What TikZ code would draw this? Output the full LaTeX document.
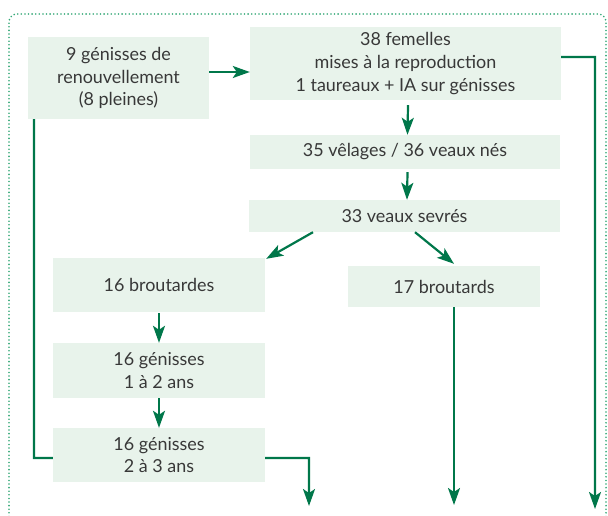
\documentclass[tikz,border=0pt]{standalone}
\usepackage{fontspec}
\setmainfont{Lato}
\usetikzlibrary{arrows.meta}

\definecolor{vert}{HTML}{00774A}
\definecolor{pointille}{HTML}{35A877}
\definecolor{fond}{HTML}{E8F3EB}
\definecolor{texte}{HTML}{383838}

\begin{document}
\begin{tikzpicture}[x=1bp,y=-1bp,
                boite/.style={fill=fond,text=texte,align=center,inner sep=0pt,
                    font=\fontsize{18}{23}\selectfont},
                fleche/.style={draw=vert,line width=2.2bp,
                    -{Stealth[length=17bp,width=12bp,inset=4bp]}},
                trait/.style={draw=vert,line width=2.2bp},
                cadre/.style={draw=pointille,line width=1.8bp,line cap=round,
                    dash pattern=on 0bp off 3.6bp,rounded corners=8bp}]
                \useasboundingbox (0,0) rectangle (608,516);
                
                % cadre pointille
                \draw[cadre] (9,520) -- (9,14) -- (606,14) -- (606,520);
                
                % boites
                \node[boite,minimum width=181bp,minimum height=82bp] (gen) at (118.5,78)
                    {9 génisses de\\renouvellement\\(8 pleines)};
                \node[boite,minimum width=311bp,minimum height=73bp] (fem) at (405.5,63.5)
                    {38 femelles\\mises à la reproduction\\1 taureaux + IA sur génisses};
                \node[boite,minimum width=310bp,minimum height=34bp] (vel) at (405,152)
                    {35 vêlages / 36 veaux nés};
                \node[boite,minimum width=311bp,minimum height=32bp] (sev) at (404.5,216)
                    {33 veaux sevrés};
                \node[boite,minimum width=212bp,minimum height=54bp] (brf) at (159,285)
                    {16 broutardes};
                \node[boite,minimum width=192bp,minimum height=41bp] (brm) at (444,286.5)
                    {17 broutards};
                \node[boite,minimum width=212bp,minimum height=55bp] (g12) at (159,370.5)
                    {16 génisses\\1 à 2 ans};
                \node[boite,minimum width=212bp,minimum height=54bp] (g23) at (159,455)
                    {16 génisses\\2 à 3 ans};
                
                % sorties en bas
                \coordinate (s1) at (309,506);
                \coordinate (s2) at (454,505);
                \coordinate (s3) at (595,509);
                
                % fleches
                \draw[fleche] ([yshift=6bp]gen.east) -- ([yshift=6bp]gen.east -| fem.west);
                \draw[fleche] ([xshift=2.5bp,yshift=-5bp]fem.south) -- ([xshift=2.5bp]vel.north);
                \draw[fleche] ([xshift=2.5bp,yshift=-3bp]vel.south) -- ([xshift=2.5bp]sev.north);
                \draw[fleche] ([xshift=-91.5bp]sev.south) -- ([xshift=1bp,yshift=-1bp]brf.north east);
                \draw[fleche] ([xshift=10.5bp]sev.south) -- ([xshift=10bp,yshift=2bp]brm.north);
                \draw[fleche] ([yshift=-1bp]brf.south) -- (g12.north);
                \draw[fleche] (g12.south) -- (g23.north);
                
                % retours et sorties
                \draw[trait] ([xshift=-84.5bp]gen.south) -- ([xshift=-84.5bp]gen.south |- 0,458)
                    -- ([yshift=-3bp]g23.west);
                \draw[fleche] ([yshift=-3bp]g23.east) -- (s1 |- 0,458) -- (s1);
                \draw[fleche] (s2 |- brm.south) -- (s2);
                \draw[fleche] ([yshift=6.5bp]fem.east) -- (s3 |- 0,57) -- (s3);
            \end{tikzpicture}
\end{document}
